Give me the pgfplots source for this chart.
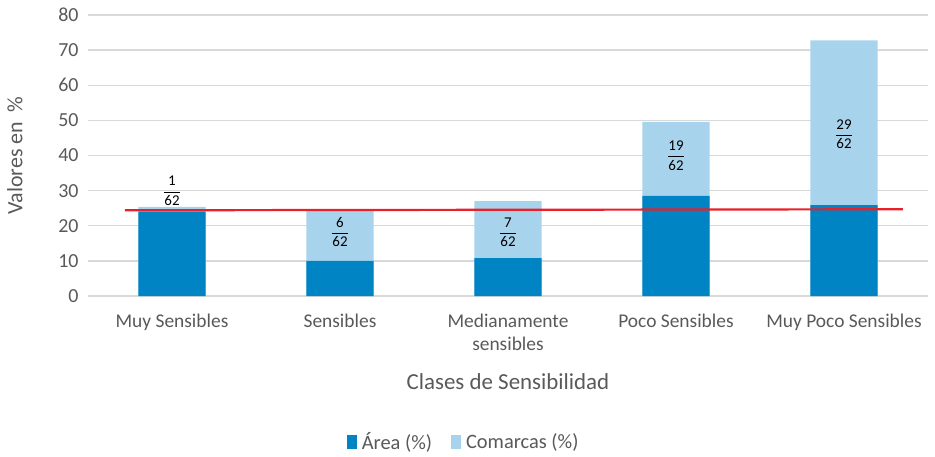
\documentclass[border=0pt]{standalone}
\usepackage{pgfplots}
\usepackage{pgfplotstable}
\pgfplotsset{compat=1.18}
\usepackage{fontspec}
\setmainfont{Carlito}
\definecolor{darkb}{HTML}{0084C4}
\definecolor{lightb}{HTML}{A8D3EC}
\definecolor{txt}{HTML}{595959}
\definecolor{gridc}{HTML}{D9D9D9}
\definecolor{redl}{HTML}{E8202A}
\newcommand{\fr}[2]{$\displaystyle\frac{\mbox{#1}}{\mbox{#2}}$}
\pgfplotstableread{
x area com
0 24.0 25.4
1 10.0 24.2
2 10.8 27.0
3 28.5 49.6
4 25.9 72.8
}\data
\begin{document}
\begin{tikzpicture}
\useasboundingbox (-88bp,-161bp) rectangle (847bp,296bp);
\begin{axis}[
  at={(0,0)}, anchor=south west,
  scale only axis, width=840bp, height=281bp,
  xmin=-0.5, xmax=4.5, ymin=0, ymax=80,
  ytick={0,10,...,80},
  xtick={0,1,2,3,4},
  xticklabels={Muy Sensibles, Sensibles, Medianamente\\sensibles, Poco Sensibles, Muy Poco Sensibles},
  x tick label style={align=center, font=\fontsize{19.5}{24}\selectfont, text=txt, yshift=-14bp},
  y tick label style={font=\fontsize{20}{22}\selectfont, text=txt, xshift=-6bp},
  /pgf/number format/assume math mode=true,
  axis line style={draw=none},
  major tick length=0pt,
  ymajorgrids, grid style={draw=gridc, line width=1.3bp},
  xlabel={Clases de Sensibilidad},
  xlabel style={at={(axis description cs:0.5,-0.306)}, anchor=center, font=\fontsize{23}{25}\selectfont, text=txt},
  ylabel={Valores en \ \%},
  ylabel style={at={(axis description cs:-0.087,0.5)}, anchor=center, font=\fontsize{22}{24}\selectfont, text=txt},
  legend style={at={(0.449,-0.52)}, anchor=center, draw=none, legend columns=2,
    nodes={font=\fontsize{20.5}{22}\selectfont, text=txt, inner xsep=5bp},
    /tikz/every even column/.append style={column sep=14bp}},
  legend image code/.code={\fill[#1, draw=none] (0bp,-7bp) rectangle (10bp,7bp);},
  reverse legend,
]
\addplot[ybar, bar width=0.4, bar shift=0pt, fill=lightb, draw=none] table[x=x, y=com] {\data};
\addlegendentry{Comarcas (\%)}
\addplot[ybar, bar width=0.4, bar shift=0pt, fill=darkb, draw=none] table[x=x, y=area] {\data};
\addlegendentry{Área (\%)}
\addplot[redl, line width=2.2bp, sharp plot, no marks, forget plot] coordinates {(-0.28,24.4) (4.35,24.7)};
\node[font=\fontsize{15}{16}\selectfont] at (axis cs:0,30) {\fr{1}{62}};
\node[font=\fontsize{15}{16}\selectfont] at (axis cs:1,18.2) {\fr{6}{62}};
\node[font=\fontsize{15}{16}\selectfont] at (axis cs:2,18.2) {\fr{7}{62}};
\node[font=\fontsize{15}{16}\selectfont] at (axis cs:3,40) {\fr{19}{62}};
\node[font=\fontsize{15}{16}\selectfont] at (axis cs:4,46) {\fr{29}{62}};
\end{axis}
\end{tikzpicture}
\end{document}
